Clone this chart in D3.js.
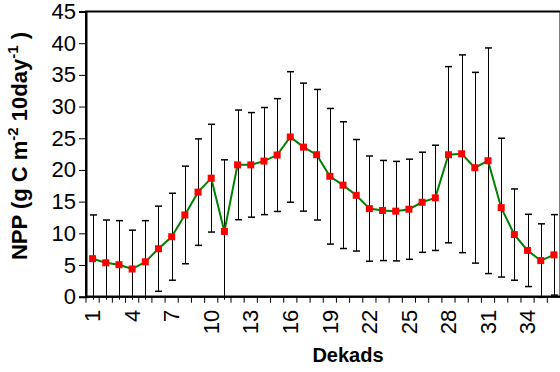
<!DOCTYPE html>
<html>
<head>
<meta charset="utf-8">
<script src="https://cdn.jsdelivr.net/npm/d3@7"></script>
<style>
  body { margin: 0; background: #fff; }
  text { font-family: Arial, "Liberation Sans", sans-serif; fill: #000; }
  .tick-label { font-size: 22px; }
  .axis-title { font-size: 20px; font-weight: bold; }
</style>
</head>
<body>
<div id="chart"></div>
<script>
// Data: NPP per dekad (mean and standard deviation)
const dekads = d3.range(1, 37);
const npp = [6.0, 5.35, 5.05, 4.37, 5.5, 7.57, 9.46, 12.9, 16.5, 18.7,
             10.3, 20.8, 20.8, 21.4, 22.35, 25.2, 23.6, 22.4, 19.0, 17.6,
             16.0, 13.9, 13.6, 13.5, 13.8, 14.9, 15.6, 22.4, 22.55, 20.35,
             21.45, 14.05, 9.8, 7.3, 5.7, 6.6];
const sd = [6.9, 6.75, 6.95, 6.13, 6.5, 6.72, 6.86, 7.7, 8.4, 8.5,
            11.3, 8.65, 8.25, 8.45, 8.9, 10.3, 10.1, 10.3, 10.7, 10.0,
            8.8, 8.3, 7.9, 7.85, 7.9, 7.9, 8.3, 13.9, 15.6, 15.05,
            17.8, 10.95, 7.2, 5.7, 5.8, 6.35];
const xTickLabels = [1, 4, 7, 10, 13, 16, 19, 22, 25, 28, 31, 34];
const yTicks = d3.range(0, 46, 5);

const width = 560;
const height = 372;
const margin = { top: 11.5, left: 86, bottom: 75.3 };
const plotW = 474.5;
const plotH = height - margin.top - margin.bottom;

const svg = d3.select("#chart").append("svg")
    .attr("width", width)
    .attr("height", height);

const g = svg.append("g")
    .attr("transform", `translate(${margin.left},${margin.top})`);

// Scales
const x = d3.scaleBand()
    .domain(dekads)
    .range([0, plotW])
    .padding(0);

const y = d3.scaleLinear()
    .domain([0, 45])
    .range([plotH, 0]);

const cx = d => x(d) + x.bandwidth() / 2;

// Plot area border
g.append("rect")
    .attr("x", 0)
    .attr("y", 0)
    .attr("width", plotW)
    .attr("height", plotH)
    .attr("fill", "none")
    .attr("stroke", "#000")
    .attr("stroke-width", 2);

// Y axis
const yAxis = g.append("g")
    .call(d3.axisLeft(y).tickValues(yTicks).tickSize(7).tickPadding(3));
yAxis.select(".domain").attr("stroke-width", 2);
yAxis.selectAll(".tick text").attr("class", "tick-label");
yAxis.attr("font-size", null).attr("font-family", null);
yAxis.selectAll(".tick line").attr("stroke", "#000");

// X axis: ticks on band boundaries, labels every third dekad
const bottom = g.append("g").attr("transform", `translate(0,${plotH})`);
bottom.append("line")
    .attr("x1", 0).attr("x2", plotW)
    .attr("stroke", "#000").attr("stroke-width", 2);
bottom.selectAll(".xtick")
    .data(dekads.concat([37]))
    .enter().append("line")
    .attr("class", "xtick")
    .attr("x1", d => d <= 36 ? x(d) : plotW)
    .attr("x2", d => d <= 36 ? x(d) : plotW)
    .attr("y1", 0).attr("y2", 6)
    .attr("stroke", "#000").attr("stroke-width", 1);
bottom.selectAll(".xlabel")
    .data(xTickLabels)
    .enter().append("text")
    .attr("class", "tick-label")
    .attr("transform", d => `translate(${cx(d)},13) rotate(-90)`)
    .attr("text-anchor", "end")
    .attr("dy", "0.35em")
    .text(d => d);

// Error bars
const floorY = y(0) + 3;
const bars = g.append("g").attr("class", "errbars");
dekads.forEach((d, i) => {
    const hi = y(npp[i] + sd[i]);
    const loVal = npp[i] - sd[i];
    const lo = Math.min(y(loVal), floorY);
    const px = Math.round(cx(d)) + 0.5;
    bars.append("line")
        .attr("x1", px).attr("x2", px)
        .attr("y1", hi).attr("y2", lo)
        .attr("stroke", "#000").attr("stroke-width", 1);
    bars.append("line")
        .attr("x1", px - 3.5).attr("x2", px + 3.5)
        .attr("y1", hi).attr("y2", hi)
        .attr("stroke", "#000").attr("stroke-width", 1.5);
    if (y(loVal) <= floorY) {
        bars.append("line")
            .attr("x1", px - 3.5).attr("x2", px + 3.5)
            .attr("y1", y(loVal)).attr("y2", y(loVal))
            .attr("stroke", "#000").attr("stroke-width", 1.5);
    }
});

// Mean line
g.append("path")
    .datum(npp)
    .attr("fill", "none")
    .attr("stroke", "#008000")
    .attr("stroke-width", 2)
    .attr("d", d3.line()
        .x((v, i) => cx(dekads[i]))
        .y(v => y(v)));

// Markers
g.selectAll(".marker")
    .data(npp)
    .enter().append("rect")
    .attr("class", "marker")
    .attr("x", (v, i) => cx(dekads[i]) - 3.5)
    .attr("y", v => y(v) - 3.5)
    .attr("width", 7)
    .attr("height", 7)
    .attr("fill", "#ff0000");

// Axis titles
const yt = svg.append("text")
    .attr("class", "axis-title")
    .style("font-size", "22px")
    .attr("transform", "translate(27,146) rotate(-90)")
    .attr("text-anchor", "middle");
yt.append("tspan").text("NPP (g C m");
yt.append("tspan").attr("dy", -9).style("font-size", "15px").text("-2");
yt.append("tspan").attr("dy", 9).text(" 10day");
yt.append("tspan").attr("dy", -9).style("font-size", "15px").text("-1");
yt.append("tspan").attr("dy", 9).text("  )");

svg.append("text")
    .attr("class", "axis-title")
    .attr("x", 348)
    .attr("y", 362)
    .attr("text-anchor", "middle")
    .text("Dekads");
</script>
</body>
</html>
